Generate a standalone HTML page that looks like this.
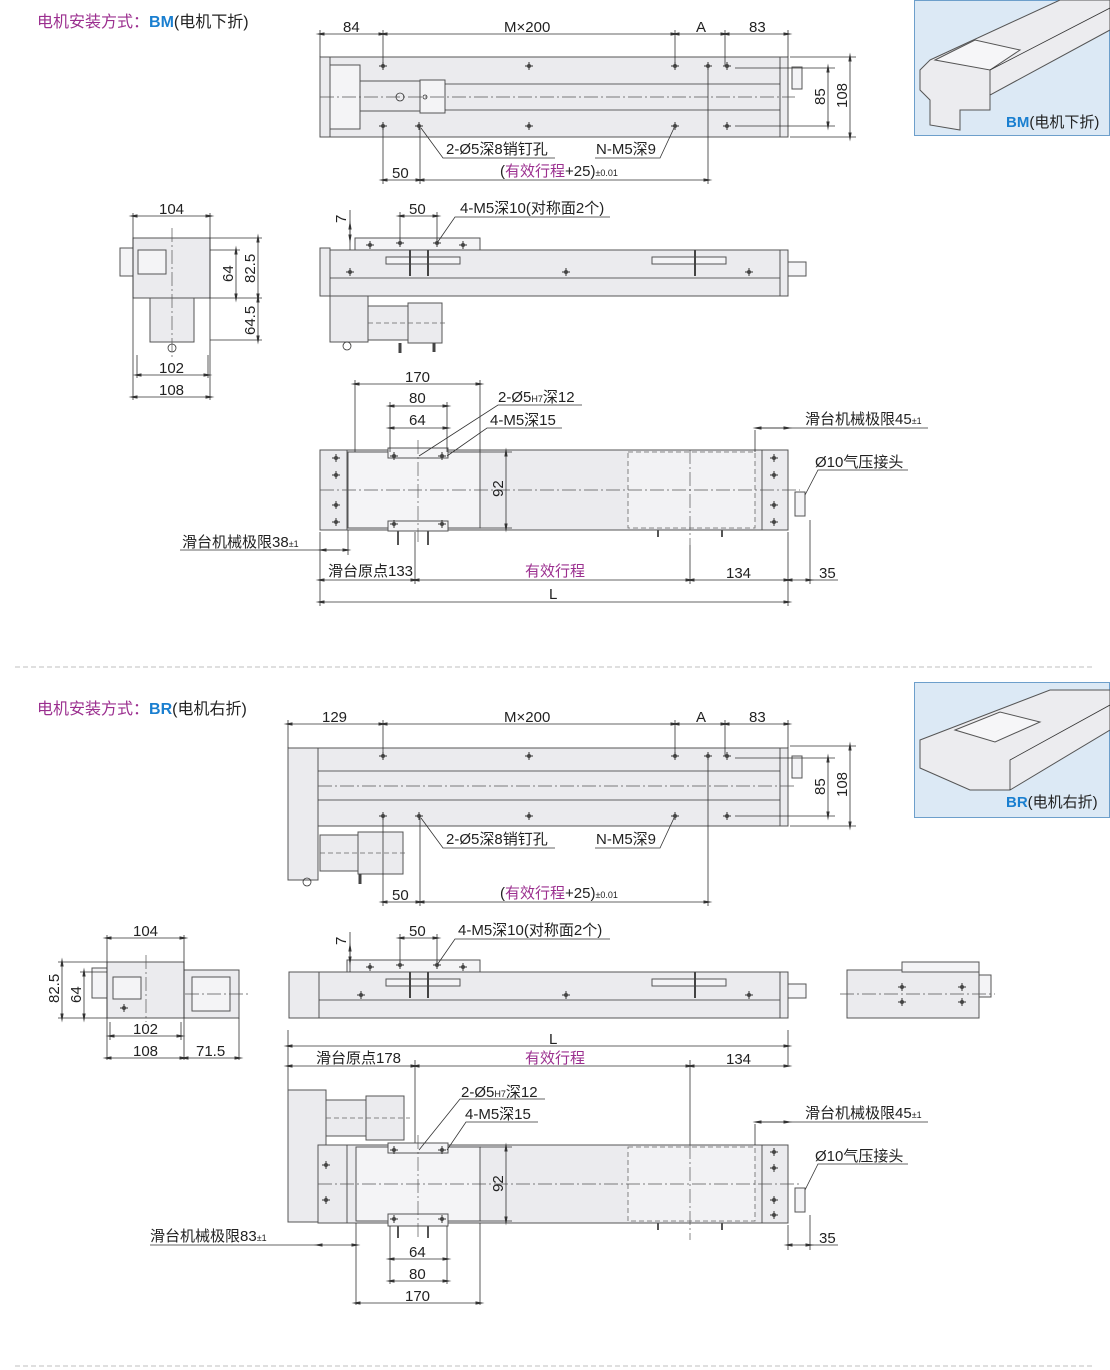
<!DOCTYPE html>
<html><head><meta charset="utf-8"><style>
html,body{margin:0;padding:0;background:#fff;}
svg{display:block;}
text{font-family:"Liberation Sans","Noto Sans CJK SC",sans-serif;font-size:15px;fill:#222;}
.b{fill:#ebebee;stroke:#555;stroke-width:1;}
.w{fill:#f4f4f6;stroke:#555;stroke-width:1;}
.l{stroke:#333;stroke-width:.8;fill:none;}
.c{stroke:#555;stroke-width:.7;fill:none;stroke-dasharray:14 3 2 3;}
.dsh{stroke:#666;stroke-width:.8;fill:none;stroke-dasharray:5 3;}
.dim{stroke:#333;stroke-width:.8;fill:none;marker-start:url(#a);marker-end:url(#a);}
.p{fill:#9b2f8f;}
.bl{fill:#1a7fd0;font-weight:bold;}
.s{font-size:9px;}
</style></head><body>
<svg width="1110" height="1370" viewBox="0 0 1110 1370">
<defs>
<marker id="a" viewBox="0 0 10 10" refX="5" refY="5" markerWidth="9" markerHeight="9" orient="auto-start-reverse" markerUnits="userSpaceOnUse"><path d="M0,5 L10,3.2 L10,6.8 Z" fill="#333" transform="rotate(180 5 5)"/></marker>
<g id="h"><path d="M-4,0H4M0,-4V4" stroke="#333" stroke-width="1"/><circle r="2" fill="#444"/></g>
</defs>

<!-- ================= SECTION BM ================= -->
<text x="37" y="27" class="p" style="font-size:16px">电机安装方式：<tspan class="bl">BM</tspan><tspan style="fill:#222">(电机下折)</tspan></text>

<rect x="320" y="57" width="468" height="80" class="b"/>
<rect x="320" y="57" width="10" height="80" class="b"/>
<rect x="780" y="57" width="8" height="80" class="b"/>
<rect x="330" y="65" width="30" height="64" class="w"/>
<rect x="360" y="81" width="60" height="30" class="b"/>
<rect x="420" y="80" width="25" height="33" class="w"/>
<line x1="445" y1="84" x2="780" y2="84" class="l"/>
<line x1="445" y1="110" x2="780" y2="110" class="l"/>
<line x1="320" y1="97" x2="795" y2="97" class="c"/>
<circle cx="400" cy="97" r="4" class="l"/><circle cx="425" cy="97" r="2" class="l"/>
<rect x="792" y="67" width="10" height="22" class="w"/>
<use href="#h" x="383" y="66"/><use href="#h" x="529" y="66"/><use href="#h" x="675" y="66"/><use href="#h" x="708" y="66"/><use href="#h" x="727" y="66"/>
<use href="#h" x="383" y="126"/><use href="#h" x="419" y="126"/><use href="#h" x="529" y="126"/><use href="#h" x="675" y="126"/><use href="#h" x="727" y="126"/>
<path d="M320,30V57M383,30V66M675,30V66M725,30V66M788,30V57" class="l"/>
<line x1="320" y1="34" x2="383" y2="34" class="dim"/><line x1="383" y1="34" x2="675" y2="34" class="dim"/>
<line x1="675" y1="34" x2="725" y2="34" class="dim"/><line x1="725" y1="34" x2="788" y2="34" class="dim"/>
<text x="343" y="32">84</text><text x="504" y="32">M×200</text><text x="696" y="32">A</text><text x="749" y="32">83</text>
<path d="M735,68H835M735,126H835M790,57H856M790,137H856" class="l"/>
<line x1="828" y1="68" x2="828" y2="126" class="dim"/><line x1="850" y1="57" x2="850" y2="137" class="dim"/>
<text transform="translate(825,105) rotate(-90)">85</text><text transform="translate(847,108) rotate(-90)">108</text>
<path d="M383,126V184M420,126V184M708,70V184" class="l"/>
<line x1="383" y1="180" x2="420" y2="180" class="dim"/><line x1="420" y1="180" x2="708" y2="180" class="dim"/>
<text x="392" y="178">50</text>
<text x="500" y="176">(<tspan class="p">有效行程</tspan>+25)<tspan class="s">±0.01</tspan></text>
<path d="M421,128L443,158H555M674,128L660,158H595" class="l"/>
<text x="446" y="154">2-Ø5深8销钉孔</text><text x="596" y="154">N-M5深9</text>

<rect x="914.5" y="0.5" width="195" height="135" fill="#dce9f5" stroke="#6d9fcb"/>
<path d="M930,60L1060,0H1110V30L990,95L990,110L960,110V130L930,125V100L920,90V70Z" fill="#ececef" stroke="#555"/>
<path d="M935,60L975,40L1020,50L990,70Z" fill="#f6f6f8" stroke="#555"/>
<path d="M990,95V70L1110,8" class="l"/>
<text x="1006" y="127"><tspan class="bl">BM</tspan>(电机下折)</text>

<rect x="355" y="238" width="125" height="12" class="w"/>
<rect x="320" y="248" width="10" height="48" class="b"/>
<rect x="330" y="250" width="450" height="46" class="b"/>
<line x1="330" y1="278" x2="780" y2="278" class="l"/>
<rect x="780" y="250" width="8" height="46" class="b"/>
<rect x="788" y="262" width="18" height="14" class="w"/>
<rect x="386" y="257" width="74" height="7" class="w"/><rect x="652" y="257" width="74" height="7" class="w"/>
<use href="#h" x="400" y="243"/><use href="#h" x="437" y="243"/><use href="#h" x="370" y="245"/><use href="#h" x="463" y="245"/>
<use href="#h" x="350" y="272"/><use href="#h" x="566" y="272"/><use href="#h" x="749" y="272"/>
<path d="M410,250V276M428,250V276M695,250V276" stroke="#444" stroke-width="2"/>
<rect x="330" y="296" width="38" height="46" class="b"/>
<rect x="368" y="306" width="40" height="34" class="b"/><rect x="408" y="303" width="34" height="40" class="b"/>
<line x1="368" y1="323" x2="445" y2="323" class="dsh"/>
<circle cx="347" cy="346" r="4" class="l"/><path d="M400,343V353M434,343V352" stroke="#444" stroke-width="3"/>
<path d="M350,210V250M400,212V240M437,212V240" class="l"/>
<line x1="350" y1="225" x2="350" y2="239" class="dim"/><text transform="translate(346,223) rotate(-90)">7</text>
<line x1="400" y1="216" x2="437" y2="216" class="dim"/><text x="409" y="214">50</text>
<path d="M437,243L455,217H610" class="l"/><text x="460" y="213">4-M5深10(对称面2个)</text>

<rect x="133" y="238" width="77" height="60" class="b"/>
<rect x="138" y="250" width="28" height="24" class="w"/>
<rect x="120" y="248" width="13" height="28" class="w"/>
<rect x="150" y="298" width="44" height="44" class="b"/>
<line x1="172" y1="228" x2="172" y2="360" class="c"/>
<circle cx="172" cy="348" r="4" class="l"/>
<path d="M133,213V400M210,213V400M137,355V378M208,355V378" class="l"/>
<line x1="133" y1="216" x2="210" y2="216" class="dim"/><text x="159" y="214">104</text>
<line x1="137" y1="375" x2="208" y2="375" class="dim"/><text x="159" y="373">102</text>
<line x1="133" y1="397" x2="210" y2="397" class="dim"/><text x="159" y="395">108</text>
<path d="M210,238H262M210,250H240M210,298H262M210,340H262" class="l"/>
<line x1="236" y1="250" x2="236" y2="298" class="dim"/><line x1="258" y1="238" x2="258" y2="298" class="dim"/><line x1="258" y1="298" x2="258" y2="340" class="dim"/>
<text transform="translate(233,282) rotate(-90)">64</text><text transform="translate(255,283) rotate(-90)">82.5</text><text transform="translate(255,335) rotate(-90)">64.5</text>

<rect x="320" y="450" width="468" height="80" class="b"/>
<rect x="320" y="450" width="27" height="80" class="b"/><rect x="762" y="450" width="26" height="80" class="b"/>
<rect x="348" y="452" width="132" height="76" class="w"/>
<rect x="628" y="452" width="127" height="76" class="dsh" style="fill:#f2f2f4"/>
<rect x="388" y="448" width="60" height="10" class="w"/><rect x="388" y="521" width="60" height="10" class="w"/>
<line x1="320" y1="490" x2="800" y2="490" class="c"/>
<line x1="418" y1="440" x2="418" y2="545" class="c"/><line x1="690" y1="450" x2="690" y2="545" class="c"/>
<use href="#h" x="336" y="458"/><use href="#h" x="336" y="475"/><use href="#h" x="336" y="505"/><use href="#h" x="336" y="522"/>
<use href="#h" x="774" y="458"/><use href="#h" x="774" y="475"/><use href="#h" x="774" y="505"/><use href="#h" x="774" y="522"/>
<use href="#h" x="394" y="456"/><use href="#h" x="442" y="456"/><use href="#h" x="394" y="524"/><use href="#h" x="442" y="524"/>
<rect x="795" y="492" width="10" height="24" class="w"/>
<path d="M398,531V545M428,531V545M658,530V537M722,530V537" stroke="#555" stroke-width="2"/>
<path d="M355,380V452M480,380V452M390,402V452M447,402V452M480,452H512M480,528H512" class="l"/>
<line x1="355" y1="384" x2="480" y2="384" class="dim"/><text x="405" y="382">170</text>
<line x1="390" y1="406" x2="447" y2="406" class="dim"/><text x="409" y="403">80</text>
<line x1="390" y1="428" x2="447" y2="428" class="dim"/><text x="409" y="425">64</text>
<line x1="506" y1="452" x2="506" y2="528" class="dim"/><text transform="translate(503,497) rotate(-90)">92</text>
<path d="M419,456L498,405H582M447,456L487,428H562" class="l"/>
<text x="498" y="402">2-Ø5<tspan class="s">H7</tspan>深12</text><text x="490" y="425">4-M5深15</text>
<path d="M755,430V452M755,428H928" class="l"/><line x1="757" y1="428" x2="788" y2="428" class="dim"/>
<text x="805" y="424">滑台机械极限45<tspan class="s">±1</tspan></text>
<path d="M805,495L818,470H908" class="l"/><text x="815" y="467">Ø10气压接头</text>
<path d="M348,530V555M180,550H340" class="l"/><line x1="322" y1="550" x2="347" y2="550" class="dim"/>
<text x="182" y="547">滑台机械极限38<tspan class="s">±1</tspan></text>
<path d="M320,532V606M415,532V584M690,545V584M788,532V606M810,520V584" class="l"/>
<line x1="320" y1="580" x2="415" y2="580" class="dim"/><line x1="415" y1="580" x2="690" y2="580" class="dim"/>
<line x1="690" y1="580" x2="788" y2="580" class="dim"/><line x1="788" y1="580" x2="810" y2="580" class="dim"/><line x1="810" y1="580" x2="838" y2="580"  class="l"/>
<text x="328" y="576">滑台原点133</text><text x="525" y="576" class="p">有效行程</text><text x="726" y="578">134</text><text x="819" y="578">35</text>
<line x1="320" y1="602" x2="788" y2="602" class="dim"/><text x="549" y="599">L</text>

<line x1="15" y1="667" x2="1095" y2="667" class="dsh" style="stroke:#aaa"/>

<!-- ================= SECTION BR ================= -->
<text x="37" y="714" class="p" style="font-size:16px">电机安装方式：<tspan class="bl">BR</tspan><tspan style="fill:#222">(电机右折)</tspan></text>

<rect x="288" y="748" width="30" height="132" class="b"/>
<rect x="318" y="748" width="470" height="78" class="b"/>
<rect x="780" y="748" width="8" height="78" class="b"/>
<line x1="318" y1="771" x2="780" y2="771" class="l"/><line x1="318" y1="800" x2="780" y2="800" class="l"/>
<line x1="318" y1="786" x2="795" y2="786" class="c"/>
<rect x="320" y="835" width="38" height="36" class="b"/><rect x="358" y="832" width="45" height="42" class="b"/>
<line x1="320" y1="853" x2="408" y2="853" class="dsh"/>
<rect x="792" y="756" width="10" height="22" class="w"/>
<circle cx="307" cy="882" r="4" class="l"/><path d="M360,874V884" stroke="#444" stroke-width="3"/>
<use href="#h" x="383" y="756"/><use href="#h" x="529" y="756"/><use href="#h" x="675" y="756"/><use href="#h" x="708" y="756"/><use href="#h" x="727" y="756"/>
<use href="#h" x="383" y="816"/><use href="#h" x="419" y="816"/><use href="#h" x="529" y="816"/><use href="#h" x="675" y="816"/><use href="#h" x="727" y="816"/>
<path d="M288,720V748M383,720V756M675,720V756M725,720V756M788,720V748" class="l"/>
<line x1="288" y1="724" x2="383" y2="724" class="dim"/><line x1="383" y1="724" x2="675" y2="724" class="dim"/>
<line x1="675" y1="724" x2="725" y2="724" class="dim"/><line x1="725" y1="724" x2="788" y2="724" class="dim"/>
<text x="322" y="722">129</text><text x="504" y="722">M×200</text><text x="696" y="722">A</text><text x="749" y="722">83</text>
<path d="M735,758H835M735,816H835M790,746H856M790,826H856" class="l"/>
<line x1="828" y1="758" x2="828" y2="816" class="dim"/><line x1="850" y1="746" x2="850" y2="826" class="dim"/>
<text transform="translate(825,795) rotate(-90)">85</text><text transform="translate(847,797) rotate(-90)">108</text>
<path d="M383,816V906M420,816V906M708,760V906" class="l"/>
<line x1="383" y1="902" x2="420" y2="902" class="dim"/><line x1="420" y1="902" x2="708" y2="902" class="dim"/>
<text x="392" y="900">50</text>
<text x="500" y="898">(<tspan class="p">有效行程</tspan>+25)<tspan class="s">±0.01</tspan></text>
<path d="M421,818L443,848H555M674,818L660,848H595" class="l"/>
<text x="446" y="844">2-Ø5深8销钉孔</text><text x="596" y="844">N-M5深9</text>

<rect x="914.5" y="682.5" width="195" height="135" fill="#dce9f5" stroke="#6d9fcb"/>
<path d="M920,740L1050,690H1110V730L1010,790H970L920,768Z" fill="#ececef" stroke="#555"/>
<path d="M955,730L1000,712L1040,722L995,742Z" fill="#f6f6f8" stroke="#555"/>
<path d="M1010,790V760L1110,705" class="l"/>
<text x="1006" y="807"><tspan class="bl">BR</tspan>(电机右折)</text>

<rect x="347" y="960" width="133" height="12" class="w"/>
<rect x="289" y="972" width="30" height="46" class="b"/>
<rect x="319" y="972" width="461" height="46" class="b"/>
<line x1="319" y1="1000" x2="780" y2="1000" class="l"/>
<rect x="780" y="972" width="8" height="46" class="b"/><rect x="788" y="984" width="18" height="14" class="w"/>
<rect x="386" y="979" width="74" height="7" class="w"/><rect x="652" y="979" width="74" height="7" class="w"/>
<use href="#h" x="400" y="965"/><use href="#h" x="437" y="965"/><use href="#h" x="370" y="967"/><use href="#h" x="463" y="967"/>
<use href="#h" x="361" y="995"/><use href="#h" x="566" y="995"/><use href="#h" x="749" y="995"/>
<path d="M410,972V998M428,972V998M695,972V998" stroke="#444" stroke-width="2"/>
<path d="M350,932V972M400,934V962M437,934V962" class="l"/>
<line x1="350" y1="947" x2="350" y2="961" class="dim"/><text transform="translate(346,945) rotate(-90)">7</text>
<line x1="400" y1="938" x2="437" y2="938" class="dim"/><text x="409" y="936">50</text>
<path d="M437,965L455,939H610" class="l"/><text x="458" y="935">4-M5深10(对称面2个)</text>

<rect x="847" y="970" width="132" height="48" class="b"/><rect x="902" y="962" width="77" height="10" class="w"/>
<rect x="979" y="975" width="12" height="22" class="w"/>
<use href="#h" x="902" y="987"/><use href="#h" x="902" y="1002"/><use href="#h" x="962" y="987"/><use href="#h" x="962" y="1002"/>
<line x1="840" y1="994" x2="995" y2="994" class="c"/>

<rect x="107" y="962" width="77" height="56" class="b"/><rect x="184" y="970" width="55" height="48" class="b"/>
<rect x="113" y="977" width="28" height="22" class="w"/><rect x="92" y="968" width="15" height="30" class="w"/>
<rect x="192" y="977" width="38" height="34" class="w"/>
<use href="#h" x="124" y="1008"/>
<line x1="185" y1="994" x2="248" y2="994" class="c"/><line x1="146" y1="955" x2="146" y2="1022" class="c"/>
<path d="M107,935V1060M184,935V1060M110,1022V1040M181,1022V1040M239,1018V1060" class="l"/>
<line x1="107" y1="938" x2="184" y2="938" class="dim"/><text x="133" y="936">104</text>
<line x1="110" y1="1036" x2="181" y2="1036" class="dim"/><text x="133" y="1034">102</text>
<line x1="107" y1="1058" x2="184" y2="1058" class="dim"/><text x="133" y="1056">108</text>
<line x1="184" y1="1058" x2="239" y2="1058" class="dim"/><text x="196" y="1056">71.5</text>
<path d="M58,962H107M80,972H107M58,1018H107" class="l"/>
<line x1="84" y1="972" x2="84" y2="1018" class="dim"/><line x1="62" y1="962" x2="62" y2="1018" class="dim"/>
<text transform="translate(81,1003) rotate(-90)">64</text><text transform="translate(59,1003) rotate(-90)">82.5</text>

<path d="M288,1030V1090M788,1030V1065M415,1060V1150M690,1060V1145" class="l"/>
<line x1="288" y1="1046" x2="788" y2="1046" class="dim"/><text x="549" y="1044">L</text>
<line x1="288" y1="1066" x2="415" y2="1066" class="dim"/><line x1="415" y1="1066" x2="690" y2="1066" class="dim"/><line x1="690" y1="1066" x2="788" y2="1066" class="dim"/>
<text x="316" y="1063">滑台原点178</text><text x="525" y="1063" class="p">有效行程</text><text x="726" y="1064">134</text>
<rect x="288" y="1090" width="38" height="132" class="b"/>
<rect x="326" y="1100" width="40" height="36" class="b"/><rect x="366" y="1096" width="38" height="44" class="b"/>
<line x1="326" y1="1118" x2="410" y2="1118" class="dsh"/>
<rect x="318" y="1145" width="470" height="78" class="b"/>
<rect x="318" y="1145" width="29" height="78" class="b"/><rect x="762" y="1145" width="26" height="78" class="b"/>
<rect x="356" y="1147" width="124" height="74" class="w"/>
<rect x="628" y="1147" width="127" height="74" class="dsh" style="fill:#f2f2f4"/>
<rect x="388" y="1143" width="60" height="10" class="w"/><rect x="388" y="1214" width="60" height="12" class="w"/>
<line x1="318" y1="1184" x2="800" y2="1184" class="c"/>
<line x1="418" y1="1135" x2="418" y2="1240" class="c"/><line x1="690" y1="1145" x2="690" y2="1240" class="c"/>
<use href="#h" x="326" y="1165"/><use href="#h" x="326" y="1200"/>
<use href="#h" x="774" y="1152"/><use href="#h" x="774" y="1168"/><use href="#h" x="774" y="1200"/><use href="#h" x="774" y="1215"/>
<use href="#h" x="394" y="1150"/><use href="#h" x="442" y="1150"/><use href="#h" x="394" y="1219"/><use href="#h" x="442" y="1219"/>
<rect x="795" y="1188" width="10" height="24" class="w"/>
<path d="M398,1226V1238M428,1226V1238M658,1223V1230M722,1223V1230" stroke="#555" stroke-width="2"/>
<path d="M480,1147H512M480,1221H512" class="l"/>
<line x1="506" y1="1147" x2="506" y2="1221" class="dim"/><text transform="translate(503,1192) rotate(-90)">92</text>
<path d="M419,1150L460,1099H545M447,1150L466,1122H538" class="l"/>
<text x="461" y="1097">2-Ø5<tspan class="s">H7</tspan>深12</text><text x="465" y="1119">4-M5深15</text>
<path d="M755,1124V1145M755,1122H928" class="l"/><line x1="757" y1="1122" x2="788" y2="1122" class="dim"/>
<text x="805" y="1118">滑台机械极限45<tspan class="s">±1</tspan></text>
<path d="M805,1190L818,1164H908" class="l"/><text x="815" y="1161">Ø10气压接头</text>
<path d="M356,1223V1305M150,1245H318M480,1223V1305M390,1226V1284M447,1226V1284M788,1225V1250M810,1215V1250" class="l"/>
<line x1="318" y1="1245" x2="356" y2="1245" class="dim"/>
<text x="150" y="1241">滑台机械极限83<tspan class="s">±1</tspan></text>
<line x1="788" y1="1245" x2="810" y2="1245" class="dim"/><line x1="810" y1="1245" x2="838" y2="1245" class="l"/><text x="819" y="1243">35</text>
<line x1="390" y1="1259" x2="447" y2="1259" class="dim"/><text x="409" y="1257">64</text>
<line x1="390" y1="1281" x2="447" y2="1281" class="dim"/><text x="409" y="1279">80</text>
<line x1="356" y1="1303" x2="480" y2="1303" class="dim"/><text x="405" y="1301">170</text>

<line x1="15" y1="1366" x2="1095" y2="1366" class="dsh" style="stroke:#aaa"/>
</svg>
</body></html>
